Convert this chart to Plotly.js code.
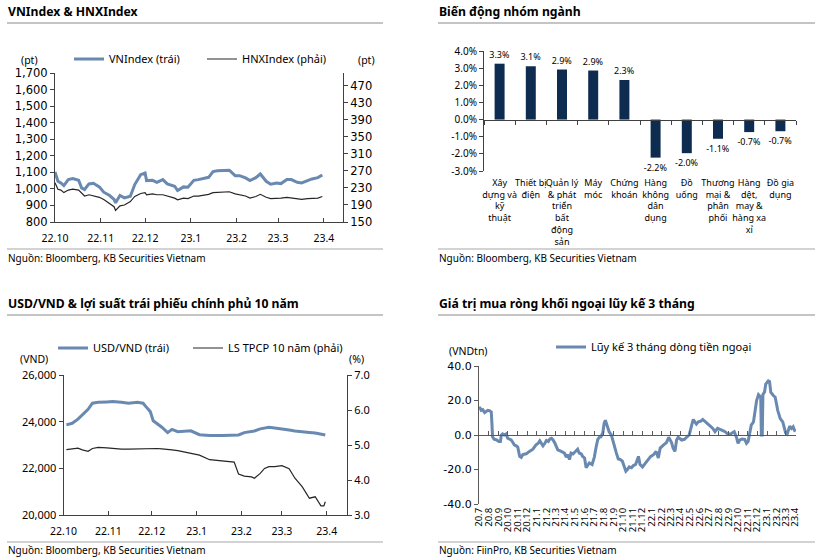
<!DOCTYPE html>
<html><head><meta charset="utf-8">
<script src="https://cdn.plot.ly/plotly-3.0.1.min.js"></script>
<style>html,body{margin:0;padding:0;background:#fff;}#chart{width:816px;height:558px;}</style>
</head><body><div id="chart"></div>
<script>
// ---------- DATA ----------
const indexDates = ['2022-10-01','2022-10-03','2022-10-05','2022-10-07','2022-10-10','2022-10-13','2022-10-17','2022-10-19','2022-10-21','2022-10-24','2022-10-27','2022-10-31','2022-11-03','2022-11-07','2022-11-10','2022-11-11','2022-11-14','2022-11-17','2022-11-21','2022-11-24','2022-11-28','2022-12-01','2022-12-02','2022-12-06','2022-12-09','2022-12-13','2022-12-16','2022-12-19','2022-12-21','2022-12-23','2022-12-27','2022-12-30','2023-01-03','2023-01-06','2023-01-10','2023-01-13','2023-01-16','2023-01-19','2023-01-27','2023-01-31','2023-02-03','2023-02-07','2023-02-10','2023-02-14','2023-02-17','2023-02-21','2023-02-24','2023-02-28','2023-03-03','2023-03-07','2023-03-10','2023-03-14','2023-03-17','2023-03-21','2023-03-24','2023-03-28','2023-03-31'];
const vnIndex = [1102,1046,1036,1020,1056,1062,1052,1006,996,1030,1034,1012,980,960,936,916,960,946,956,1026,1086,1096,1050,1052,1040,1056,1030,1020,1016,990,1012,1010,1052,1056,1062,1070,1105,1110,1113,1080,1080,1066,1050,1068,1090,1046,1028,1036,1032,1056,1056,1040,1036,1052,1060,1068,1084];
const hnxIndex = [242,227,225,219,225,227,225,217,211,214,212,208,203,194,186,177,188,190,198,210,217,219,214,216,214,214,211,208,206,202,206,205,211,211,213,215,219,220,221,216,214,211,206,210,215,208,205,205,206,208,207,205,203,205,206,206,210];

const sectors = ['Xây<br>dựng và<br>kỹ<br>thuật','Thiết bị<br>điện','Quản lý<br>& phát<br>triển<br>bất<br>động<br>sản','Máy<br>móc','Chứng<br>khoán','Hàng<br>không<br>dân<br>dụng','Đồ<br>uống','Thương<br>mại &<br>phân<br>phối','Hàng<br>dệt,<br>may &<br>hàng xa<br>xỉ','Đồ gia<br>dụng'];
const sectorChange = [3.26,3.11,2.92,2.86,2.31,-2.22,-1.96,-1.12,-0.73,-0.68];
const sectorLabels = ['3.3%','3.1%','2.9%','2.9%','2.3%','-2.2%','-2.0%','-1.1%','-0.7%','-0.7%'];
const pctTickVals = [-3,-2,-1,0,1,2,3,4];
const pctTickText = ['-3.0%','-2.0%','-1.0%','0.0%','1.0%','2.0%','3.0%','4.0%'];

const fxDates = ['2022-10-03','2022-10-07','2022-10-11','2022-10-14','2022-10-18','2022-10-21','2022-10-25','2022-10-31','2022-11-04','2022-11-10','2022-11-15','2022-11-21','2022-11-25','2022-11-28','2022-11-30','2022-12-02','2022-12-05','2022-12-08','2022-12-12','2022-12-15','2022-12-19','2022-12-23','2022-12-28','2023-01-03','2023-01-10','2023-01-19','2023-01-27','2023-01-30','2023-02-03','2023-02-08','2023-02-10','2023-02-14','2023-02-17','2023-02-20','2023-02-24','2023-03-01','2023-03-06','2023-03-10','2023-03-15','2023-03-20','2023-03-24','2023-03-28','2023-03-30','2023-03-31'];
const usdVnd = [23860,23930,24110,24290,24530,24790,24830,24845,24860,24830,24790,24830,24790,24570,24430,24040,23900,23760,23530,23670,23570,23600,23610,23440,23410,23410,23420,23430,23530,23560,23600,23690,23740,23760,23730,23670,23640,23600,23585,23540,23510,23455,23440,23430];
const bond10y = [4.87,4.89,4.91,4.86,4.82,4.90,4.93,4.92,4.90,4.88,4.88,4.89,4.90,4.90,4.90,4.90,4.90,4.89,4.88,4.86,4.84,4.81,4.77,4.71,4.58,4.55,4.51,4.17,4.11,4.09,4.05,4.19,4.33,4.38,4.38,4.41,4.32,4.05,3.81,3.48,3.52,3.26,3.26,3.38];

const flowDates = ['2020-07-01','2020-07-03','2020-07-08','2020-07-13','2020-07-19','2020-07-24','2020-07-29','2020-08-04','2020-08-09','2020-08-11','2020-08-13','2020-08-18','2020-08-26','2020-09-02','2020-09-07','2020-09-10','2020-09-14','2020-09-19','2020-09-25','2020-09-30','2020-10-11','2020-10-16','2020-10-21','2020-10-27','2020-11-01','2020-11-07','2020-11-12','2020-11-17','2020-11-28','2020-12-08','2020-12-19','2020-12-29','2021-01-05','2021-01-10','2021-01-15','2021-01-20','2021-01-26','2021-01-31','2021-02-06','2021-02-11','2021-02-16','2021-02-21','2021-02-27','2021-03-03','2021-03-08','2021-03-19','2021-03-29','2021-04-04','2021-04-09','2021-04-14','2021-04-19','2021-04-25','2021-05-05','2021-05-10','2021-05-15','2021-05-21','2021-05-26','2021-06-01','2021-06-06','2021-06-11','2021-06-16','2021-06-25','2021-07-02','2021-07-08','2021-07-13','2021-07-18','2021-07-23','2021-07-29','2021-08-02','2021-08-06','2021-08-11','2021-08-18','2021-08-25','2021-08-30','2021-09-05','2021-09-10','2021-09-16','2021-09-23','2021-09-29','2021-10-05','2021-10-10','2021-10-15','2021-10-21','2021-10-28','2021-11-03','2021-11-10','2021-11-14','2021-11-19','2021-11-24','2021-12-02','2021-12-10','2021-12-20','2021-12-28','2022-01-06','2022-01-14','2022-01-21','2022-01-27','2022-02-07','2022-02-16','2022-02-23','2022-02-28','2022-03-04','2022-03-09','2022-03-15','2022-03-20','2022-03-25','2022-04-05','2022-04-14','2022-04-21','2022-04-29','2022-05-07','2022-05-12','2022-05-17','2022-05-22','2022-05-28','2022-06-05','2022-06-11','2022-06-18','2022-06-26','2022-07-05','2022-07-13','2022-07-20','2022-07-28','2022-08-06','2022-08-14','2022-08-21','2022-08-29','2022-09-07','2022-09-12','2022-09-19','2022-09-26','2022-10-01','2022-10-07','2022-10-14','2022-10-22','2022-10-28','2022-11-02','2022-11-08','2022-11-12','2022-11-19','2022-11-23','2022-11-29','2022-12-05','2022-12-10','2022-12-12','2022-12-14','2022-12-17','2022-12-19','2022-12-24','2022-12-28','2023-01-05','2023-01-09','2023-01-13','2023-01-21','2023-01-27','2023-02-04','2023-02-12','2023-02-20','2023-02-25','2023-03-01','2023-03-06','2023-03-14','2023-03-20','2023-03-25','2023-03-29','2023-04-01'];
const foreignFlow3m = [15.2,16.2,14.3,14.7,13.0,13.9,14.3,14.0,13.3,6.7,-1.0,-2.5,-2.9,-3.8,-3.8,0.0,0.6,0.0,0.6,-1.9,-2.9,-4.2,-5.7,-6.3,-7.0,-12.4,-13.0,-11.4,-10.9,-9.5,-8.2,-5.7,-4.8,-3.4,-5.1,-6.3,-4.8,-3.2,-3.8,-2.3,-1.9,-2.9,-4.8,-7.0,-8.6,-9.5,-10.5,-12.8,-11.4,-14.3,-10.5,-11.0,-9.5,-8.2,-10.5,-10.9,-12.4,-13.3,-19.0,-17.7,-16.2,-17.1,-12.8,-6.7,-2.5,-1.3,-1.0,1.3,6.7,8.6,5.7,1.9,0.0,-3.8,-6.7,-10.5,-13.9,-14.3,-15.2,-19.0,-21.0,-20.0,-18.5,-19.0,-17.7,-17.1,-14.3,-12.4,-17.1,-18.5,-16.6,-14.3,-12.4,-11.4,-9.5,-13.3,-7.6,-5.7,-4.4,-1.3,-2.9,-4.4,-7.6,-9.5,-2.9,-1.3,-2.9,-2.5,-1.3,0.0,5.7,9.0,7.6,6.3,7.6,8.0,9.0,8.0,6.7,5.1,3.8,1.9,3.8,2.9,2.5,1.9,0.6,0.6,1.3,1.9,-1.3,-4.8,-2.9,-2.3,-2.5,-4.8,-3.8,1.0,5.7,7.6,12.4,20.0,23.4,21.9,22.0,0.0,0.0,23.5,24.8,29.5,31.4,31.0,24.8,22.9,21.9,14.3,9.5,7.6,4.8,1.3,0.6,5.1,3.8,4.8,2.9,1.9];
const flowTickVals = [-40,-20,0,20,40];
const flowTickText = ['-40.0','-20.0','0.0','20.0','40.0'];

// ---------- LAYOUT HELPERS ----------
const W = 816, H = 558;
const px = v => v / W, py = v => 1 - v / H;
const FONT = 'Noto Sans, sans-serif';
const WIDE = 'DejaVu Sans, sans-serif';
const AX = '#404040';
const BLUE = '#6a89b1';
const DARK = '#262626';
const NAVY = '#0d2c50';
const base = {showgrid:false, zeroline:false, showline:true, linecolor:AX, linewidth:1, tickcolor:AX, tickwidth:1, fixedrange:true};
const tf = (size, family) => ({family: family || FONT, size: size, color:'#000'});

const barDom = [py(171), py(51)];
const barRange = [-3, 4];
const barZero = barDom[0] + (0 - barRange[0]) / (barRange[1] - barRange[0]) * (barDom[1] - barDom[0]);
const flowDom = [py(504), py(366)];
const flowRange = [-40, 40];
const flowZero = flowDom[0] + (0 - flowRange[0]) / (flowRange[1] - flowRange[0]) * (flowDom[1] - flowDom[0]);

const traces = [
  {type:'scatter', mode:'lines', x:indexDates, y:vnIndex, xaxis:'x', yaxis:'y', name:'VNIndex (trái)', line:{color:BLUE, width:3}, legend:'legend'},
  {type:'scatter', mode:'lines', x:indexDates, y:hnxIndex, xaxis:'x', yaxis:'y2', name:'HNXIndex (phải)', line:{color:DARK, width:1.2}, legend:'legend4'},
  {type:'bar', x:sectors, y:sectorChange, xaxis:'x2', yaxis:'y3', marker:{color:NAVY}, text:sectorLabels, textposition:'outside', constraintext:'none', textfont:tf(9), cliponaxis:false, showlegend:false},
  {type:'scatter', mode:'lines', x:[], y:[], xaxis:'x3', yaxis:'y3', showlegend:false, hoverinfo:'skip'},
  {type:'scatter', mode:'lines', x:fxDates, y:usdVnd, xaxis:'x4', yaxis:'y4', name:'USD/VND (trái)', line:{color:BLUE, width:3}, legend:'legend2'},
  {type:'scatter', mode:'lines', x:fxDates, y:bond10y, xaxis:'x4', yaxis:'y5', name:'LS TPCP 10 năm (phải)', line:{color:DARK, width:1.2}, legend:'legend5'},
  {type:'scatter', mode:'lines', x:flowDates, y:foreignFlow3m, xaxis:'x5', yaxis:'y6', name:'Lũy kế 3 tháng dòng tiền ngoại', line:{color:BLUE, width:3}, legend:'legend3'},
  {type:'scatter', mode:'lines', x:[], y:[], xaxis:'x6', yaxis:'y6', showlegend:false, hoverinfo:'skip'}
];

const legendBase = {orientation:'h', xanchor:'left', yanchor:'middle', font:tf(11), bgcolor:'rgba(0,0,0,0)', borderwidth:0, traceorder:'normal'};

const shapes = [];
[[7,383,23,2],[438,815,23,2],[7,383,249,1.3],[438,815,249,1.3],[7,383,315,2],[438,815,315,2],[7,383,542,1.3],[438,815,542,1.3]].forEach(s => {
  shapes.push({type:'line', xref:'paper', yref:'paper', x0:px(s[0]), x1:px(s[1]), y0:py(s[2]), y1:py(s[2]), line:{color:'#c4c4c4', width:s[3]}});
});

const ann = (text, x, y, font, xanchor) => ({text:text, x:px(x), y:py(y), xref:'paper', yref:'paper', showarrow:false, xanchor:xanchor||'left', yanchor:'middle', font:font});
const titleFont = {family:FONT, size:12.2, color:'#000', weight:'bold'};
const annotations = [
  ann('VNIndex & HNXIndex', 6, 12, titleFont),
  ann('Biến động nhóm ngành', 437, 12, titleFont),
  ann('USD/VND & lợi suất trái phiếu chính phủ 10 năm', 6, 303, titleFont),
  ann('Giá trị mua ròng khối ngoại lũy kế 3 tháng', 437, 303, titleFont),
  ann('Nguồn: Bloomberg, KB Securities Vietnam', 6, 258, tf(10)),
  ann('Nguồn: Bloomberg, KB Securities Vietnam', 437, 258, tf(10)),
  ann('Nguồn: Bloomberg, KB Securities Vietnam', 6, 550, tf(10)),
  ann('Nguồn: FiinPro, KB Securities Vietnam', 437, 550, tf(10)),
  ann('(pt)', 29, 60, tf(10.5), 'center'),
  ann('(pt)', 366, 60, tf(10.5), 'center'),
  ann('(VND)', 34, 359, tf(10.5), 'center'),
  ann('(%)', 356, 359, tf(10.5), 'center'),
  ann('(VNDtn)', 469, 351, tf(10.5), 'center')
];

const layout = {
  width:W, height:H, margin:{l:0,r:0,t:0,b:0}, paper_bgcolor:'#fff', plot_bgcolor:'rgba(0,0,0,0)',
  hovermode:false, bargap:0.68, font:tf(11),
  xaxis: Object.assign({}, base, {domain:[px(55),px(343)], anchor:'y', type:'date', range:['2022-10-01','2023-04-14'], tick0:'2022-10-01', dtick:'M1', tickformat:'%y.%-m', ticks:'inside', ticklen:4, tickfont:tf(10.5), ticklabelstandoff:6}),
  yaxis: Object.assign({}, base, {domain:[py(222),py(73)], anchor:'x', range:[800,1700], tick0:800, dtick:100, tickformat:',', ticks:'outside', ticklen:4, tickfont:tf(11.5,WIDE)}),
  yaxis2: Object.assign({}, base, {overlaying:'y', side:'right', anchor:'x', range:[150,500], tick0:150, dtick:40, ticks:'outside', ticklen:4, tickfont:tf(11.5,WIDE)}),
  xaxis2: {domain:[px(484),px(796)], anchor:'y3', type:'category', range:[-0.5,9.5], showline:false, showgrid:false, zeroline:false, ticks:'', tickangle:0, dtick:1, tickfont:tf(9), fixedrange:true, ticklabelstandoff:5},
  xaxis3: Object.assign({}, base, {domain:[px(484),px(796)], overlaying:'x2', anchor:'free', position:barZero, type:'linear', range:[-0.5,9.5], tick0:-0.5, dtick:1, ticks:'outside', ticklen:4, showticklabels:false}),
  yaxis3: Object.assign({}, base, {domain:barDom, anchor:'x2', range:barRange, tickmode:'array', tickvals:pctTickVals, ticktext:pctTickText, ticks:'outside', ticklen:4, tickfont:tf(10)}),
  xaxis4: Object.assign({}, base, {domain:[px(63.5),px(347)], anchor:'y4', type:'date', range:['2022-10-01','2023-04-15'], tick0:'2022-10-01', dtick:'M1', tickformat:'%y.%-m', ticks:'inside', ticklen:4, tickfont:tf(10.5), ticklabelstandoff:6}),
  yaxis4: Object.assign({}, base, {domain:[py(515),py(375)], anchor:'x4', range:[20000,26000], tick0:20000, dtick:2000, tickformat:',', ticks:'outside', ticklen:4, tickfont:tf(11)}),
  yaxis5: Object.assign({}, base, {overlaying:'y4', side:'right', anchor:'x4', range:[3,7], tick0:3, dtick:1, tickformat:'.1f', ticks:'outside', ticklen:4, tickfont:tf(11)}),
  xaxis5: {domain:[px(479),px(796)], anchor:'y6', type:'date', range:['2020-07-01','2023-04-03'], tick0:'2020-07-01', dtick:'M1', tickformat:'%y.%-m', tickangle:-90, ticks:'', showline:false, showgrid:false, zeroline:false, tickfont:tf(9.5), fixedrange:true, ticklabelstandoff:1},
  xaxis6: Object.assign({}, base, {domain:[px(479),px(796)], overlaying:'x5', anchor:'free', position:flowZero, type:'date', range:['2020-07-01','2023-04-03'], tick0:'2020-07-01', dtick:'M1', ticks:'inside', ticklen:4, showticklabels:false, linecolor:'#595959', tickcolor:'#595959'}),
  yaxis6: Object.assign({}, base, {domain:flowDom, anchor:'x5', range:flowRange, tickmode:'array', tickvals:flowTickVals, ticktext:flowTickText, ticks:'outside', ticklen:4, tickfont:tf(11,WIDE), linecolor:'#595959', tickcolor:'#595959'}),
  legend: Object.assign({}, legendBase, {x:px(69), y:py(59)}),
  legend4: Object.assign({}, legendBase, {x:px(202), y:py(59)}),
  legend2: Object.assign({}, legendBase, {x:px(53), y:py(348)}),
  legend5: Object.assign({}, legendBase, {x:px(188), y:py(348)}),
  legend3: Object.assign({}, legendBase, {x:px(551), y:py(347)}),
  shapes: shapes,
  annotations: annotations
};

Plotly.newPlot('chart', traces, layout, {staticPlot:true, displayModeBar:false});
</script></body></html>
